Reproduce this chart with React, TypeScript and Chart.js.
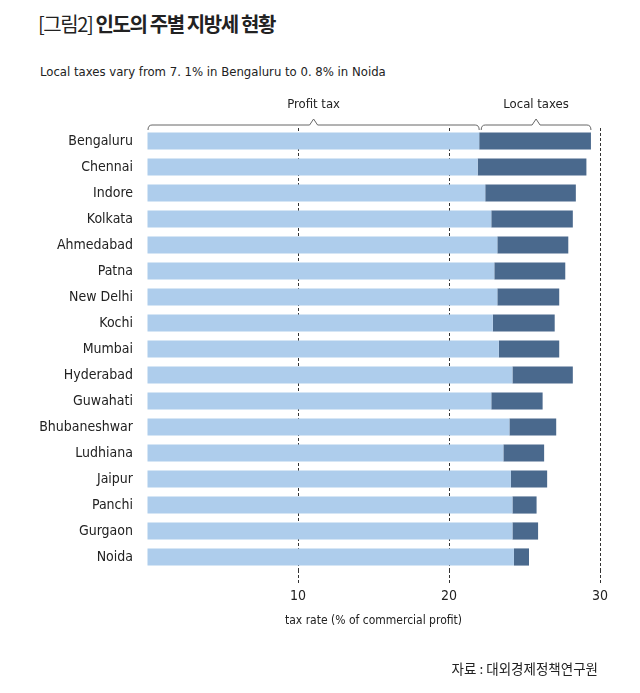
import React, { useEffect, useRef } from "react";
import { Chart, registerables } from "chart.js";

Chart.register(...registerables);

const cities = [
  "Bengaluru", "Chennai", "Indore", "Kolkata", "Ahmedabad", "Patna", "New Delhi", "Kochi",
  "Mumbai", "Hyderabad", "Guwahati", "Bhubaneshwar", "Ludhiana", "Jaipur", "Panchi", "Gurgaon", "Noida",
];
const profitTax = [22.0, 21.9, 22.4, 22.8, 23.2, 23.0, 23.2, 22.9, 23.3, 24.2, 22.8, 24.0, 23.6, 24.1, 24.2, 24.2, 24.3];
const localTax = [7.4, 7.2, 6.0, 5.4, 4.7, 4.7, 4.1, 4.1, 4.0, 4.0, 3.4, 3.1, 2.7, 2.4, 1.6, 1.7, 1.0];
const xTicks = [10, 20, 30];

const seriesNames = ["Profit tax", "Local taxes"];
const titleText = "인도의 주별 지방세 현황";
const figLabel = "[그림2]";
const subtitleText = "Local taxes vary from 7. 1% in Bengaluru to 0. 8% in Noida";
const axisTitle = "tax rate (% of commercial profit)";
const sourceText = "자료 : 대외경제정책연구원";

const NARROW = "'Liberation Sans Narrow', 'DejaVu Sans Condensed', 'Arial Narrow', sans-serif";
const KR = "'Noto Sans CJK KR', sans-serif";

const bracePlugin = {
  id: "braces",
  afterDraw(chart: any) {
    const ctx = chart.ctx;
    const xs = chart.scales.x;
    const top = chart.chartArea.top;
    const y = top - 3;
    const p0 = xs.getPixelForValue(0);
    const p1 = xs.getPixelForValue(profitTax[0]);
    const p2 = xs.getPixelForValue(profitTax[0] + localTax[0]);
    const drawBrace = (a: number, b: number, label: string) => {
      const mid = (a + b) / 2;
      ctx.save();
      ctx.strokeStyle = "#666";
      ctx.lineWidth = 1;
      ctx.beginPath();
      ctx.moveTo(a, y + 5);
      ctx.quadraticCurveTo(a, y, a + 4, y);
      ctx.lineTo(mid - 4, y);
      ctx.lineTo(mid, y - 6);
      ctx.lineTo(mid + 4, y);
      ctx.lineTo(b - 4, y);
      ctx.quadraticCurveTo(b, y, b, y + 5);
      ctx.stroke();
      ctx.fillStyle = "#222";
      ctx.font = `13px ${NARROW}`;
      ctx.textAlign = "center";
      ctx.textBaseline = "middle";
      ctx.fillText(label, mid, y - 20);
      ctx.restore();
    };
    drawBrace(p0 + 1, p1, seriesNames[0]);
    drawBrace(p1 + 2, p2, seriesNames[1]);
  },
};

export default function App() {
  const ref = useRef<HTMLCanvasElement>(null);
  useEffect(() => {
    if (!ref.current) return;
    const gridColor = (c: any) => (xTicks.includes(c.tick?.value) ? "#333" : "rgba(0,0,0,0)");
    const chart = new Chart(ref.current, {
      type: "bar",
      data: {
        labels: cities,
        datasets: [
          {
            label: seriesNames[0],
            data: profitTax,
            backgroundColor: "#AECDEC",
            borderWidth: 0,
            barPercentage: 0.66,
            categoryPercentage: 1,
          },
          {
            label: seriesNames[1],
            data: localTax,
            backgroundColor: "#4A698D",
            borderWidth: 0,
            barPercentage: 0.66,
            categoryPercentage: 1,
          },
        ],
      },
      options: {
        indexAxis: "y",
        responsive: false,
        animation: false,
        layout: { padding: { top: 128, right: 40, bottom: 65, left: 0 } },
        plugins: { legend: { display: false }, tooltip: { enabled: false }, title: { display: false } },
        scales: {
          x: {
            stacked: true,
            min: 0,
            max: 30,
            ticks: {
              stepSize: 10,
              padding: 5,
              color: "#222",
              font: { family: NARROW, size: 14 },
              callback: (v: any) => (xTicks.includes(v) ? String(v) : ""),
            },
            grid: {
              color: gridColor,
              tickColor: gridColor,
              lineWidth: 1,
              tickLength: 13,
              tickBorderDash: [3, 2],
            },
            border: { display: false, dash: [3, 2] },
            title: {
              display: true,
              text: axisTitle,
              color: "#222",
              font: { family: NARROW, size: 12 },
              padding: { top: 0, bottom: 0 },
            },
            afterFit: (s: any) => {
              s.height = 58;
            },
          },
          y: {
            stacked: true,
            grid: { display: false, drawTicks: false },
            border: { display: false },
            ticks: { padding: 14, color: "#222", font: { family: NARROW, size: 14 } },
            afterFit: (s: any) => {
              s.width = 147;
            },
          },
        },
      },
      plugins: [bracePlugin],
    } as any);
    return () => chart.destroy();
  }, []);

  return (
    <div style={{ position: "absolute", left: 0, top: 0, width: 640, height: 693, background: "#fff" }}>
      <div
        style={{
          position: "absolute",
          left: 38,
          top: 10,
          fontFamily: KR,
          fontSize: 20,
          letterSpacing: -1.4,
          color: "#222",
          whiteSpace: "nowrap",
          lineHeight: "28px",
        }}
      >
        <span style={{ fontWeight: 400 }}>{figLabel}</span>{" "}
        <span style={{ fontWeight: 700 }}>{titleText}</span>
      </div>
      <div
        style={{
          position: "absolute",
          left: 40,
          top: 63,
          fontFamily: NARROW,
          fontSize: 13,
          color: "#222",
          whiteSpace: "nowrap",
          lineHeight: "18px",
        }}
      >
        {subtitleText}
      </div>
      <canvas ref={ref} width={640} height={693} style={{ position: "absolute", left: 0, top: 0 }} />
      <div
        style={{
          position: "absolute",
          right: 42,
          top: 659,
          fontFamily: KR,
          fontSize: 13.5,
          letterSpacing: 0,
          color: "#222",
          whiteSpace: "nowrap",
          lineHeight: "18px",
        }}
      >
        {sourceText}
      </div>
    </div>
  );
}
